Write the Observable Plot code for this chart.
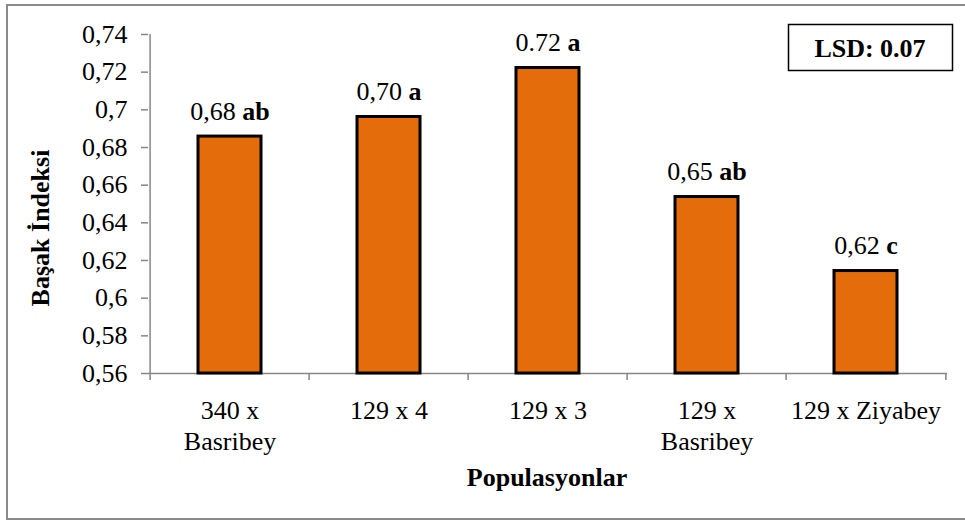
<!DOCTYPE html>
<html><head><meta charset="utf-8">
<script src="https://cdn.jsdelivr.net/npm/d3@7"></script>
<script src="https://cdn.jsdelivr.net/npm/@observablehq/plot@0.6"></script>
<style>
body{margin:0;background:#fff;}
#chart{position:relative;width:965px;height:521px;overflow:hidden;}
</style>
</head><body><div id="chart"></div>
<script>
const categories = ["340 x\nBasribey", "129 x 4", "129 x 3", "129 x\nBasribey", "129 x Ziyabey"];
const values = [0.6858, 0.6962, 0.7222, 0.6537, 0.6144];
const valueLabels = ["0,68", "0,70", "0.72", "0,65", "0,62"];
const groupLetters = ["ab", "a", "a", "ab", "c"];
const yTicks = [0.56, 0.58, 0.6, 0.62, 0.64, 0.66, 0.68, 0.7, 0.72, 0.74];
const yTitle = "Başak İndeksi";
const xTitle = "Populasyonlar";
const lsdText = "LSD: 0.07";

const data = categories.map((c, i) => ({cat: c, value: values[i], lbl: valueLabels[i], grp: groupLetters[i]}));
const fmt = v => (+v.toFixed(2)).toString().replace(".", ",");

const W = 965, H = 521, mL = 148, mR = 18, mT = 34, mB = 148;
const step = (W - mL - mR) / categories.length;
const axisGray = "#868686";
const font = "'Liberation Serif', 'Times New Roman', serif";

const chart = Plot.plot({
  width: W, height: H,
  marginLeft: mL, marginRight: mR, marginTop: mT, marginBottom: mB,
  style: {fontFamily: font, fontSize: "26px", color: "#000", background: "transparent", overflow: "visible"},
  x: {type: "band", domain: categories, padding: 0, label: null},
  y: {domain: [yTicks[0], yTicks[yTicks.length - 1]], label: null},
  marks: [
    Plot.axisY({ticks: yTicks, tickFormat: fmt, tickSize: 7, tickPadding: 14, stroke: axisGray, fill: "#000", strokeWidth: 1.5, label: null}),
    Plot.axisX({tickSize: 0, tickPadding: 23, lineHeight: 1.2, fill: "#000", label: null}),
    Plot.ruleY([yTicks[0]], {stroke: axisGray, strokeWidth: 1.5}),
    Plot.ruleX([categories[0]], {x: d => d, dx: -step / 2, y1: yTicks[0], y2: yTicks[yTicks.length - 1], stroke: axisGray, strokeWidth: 1.5}),
    Plot.ruleX(categories, {x: d => d, dx: -step / 2, y1: yTicks[0], y2: yTicks[0], insetBottom: -7, stroke: axisGray, strokeWidth: 1.5}),
    Plot.ruleX([categories[categories.length - 1]], {x: d => d, dx: step / 2, y1: yTicks[0], y2: yTicks[0], insetBottom: -7, stroke: axisGray, strokeWidth: 1.5}),
    Plot.barY(data, {x: "cat", y1: yTicks[0], y2: "value", fill: "#E46C0A", stroke: "#000", strokeWidth: 3, insetLeft: 48, insetRight: 48}),
    Plot.text(data, {x: "cat", y: "value", text: d => d.lbl + " " + d.grp, dy: -25, lineAnchor: "middle", fill: "#000", fontSize: 26})
  ]
});

const svg = d3.select(chart);
// split bar labels into regular number + bold letters
svg.selectAll('g[aria-label="text"] text').each(function() {
  const t = this.textContent;
  const k = t.lastIndexOf(" ");
  const el = d3.select(this);
  el.text(null);
  el.append("tspan").text(t.slice(0, k + 1));
  el.append("tspan").attr("font-weight", "bold").text(t.slice(k + 1));
});

// outer border
svg.insert("rect", ":first-child").attr("x", 7).attr("y", 5).attr("width", 975).attr("height", 514)
  .attr("fill", "#fff").attr("stroke", "#8a8a8a").attr("stroke-width", 2);

// axis titles
svg.append("text").attr("transform", "translate(40,228) rotate(-90)")
  .attr("text-anchor", "middle").attr("dy", "0.35em").attr("font-weight", "bold").attr("font-size", 26).text(yTitle);
svg.append("text").attr("x", 547).attr("y", 477)
  .attr("text-anchor", "middle").attr("dy", "0.35em").attr("font-weight", "bold").attr("font-size", 26).text(xTitle);

// LSD box
svg.append("rect").attr("x", 788.5).attr("y", 24.5).attr("width", 164).attr("height", 46)
  .attr("fill", "#fff").attr("stroke", "#000").attr("stroke-width", 1.5);
svg.append("text").attr("x", 870).attr("y", 47.5).attr("text-anchor", "middle").attr("dy", "0.35em")
  .attr("font-weight", "bold").attr("font-size", 26).text(lsdText);

document.getElementById("chart").appendChild(chart);
</script>
</body></html>
